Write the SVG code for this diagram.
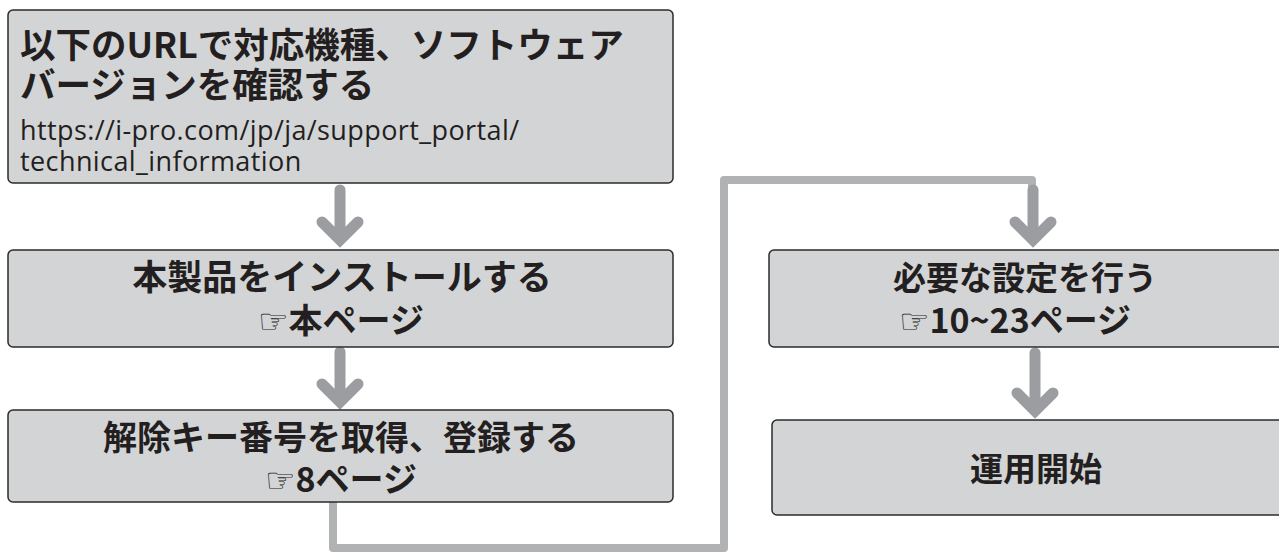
<svg xmlns="http://www.w3.org/2000/svg" width="1279" height="552" viewBox="0 0 1279 552">
<style>
.box{fill:#d3d4d6;stroke:#2b2b2b;stroke-width:1.5}
.t{font-family:"Noto Sans CJK JP","Noto Sans",sans-serif;font-weight:700;font-size:34px;fill:#231f20}
.c{text-anchor:middle}
.u{font-family:"Open Sans","Noto Sans",sans-serif;font-weight:400;font-size:27px;letter-spacing:0.4px;fill:#231f20}
.line{fill:none;stroke:#b1b2b4;stroke-width:8;stroke-linecap:round;stroke-linejoin:round}
.shaft{fill:none;stroke:#9c9da0;stroke-width:11;stroke-linecap:round}
.head{fill:none;stroke:#9c9da0;stroke-width:11;stroke-linecap:round;stroke-linejoin:miter}
.hand{font-family:"DejaVu Sans",sans-serif;font-weight:400;font-size:34px}
</style>
<rect width="1279" height="552" fill="#fff"/>
<g id="connectors">
<path class="line" d="M333 502 V548 H724 V180 H1032 V210"/>
<line class="shaft" x1="340" y1="190" x2="340" y2="236"/>
<path class="head" d="M322 222 L340 240 L358 222"/>
<line class="shaft" x1="340" y1="352" x2="340" y2="398"/>
<path class="head" d="M322 384 L340 402 L358 384"/>
<line class="shaft" x1="1033" y1="190" x2="1033" y2="236"/>
<path class="head" d="M1015 222 L1033 240 L1051 222"/>
<line class="shaft" x1="1035" y1="353" x2="1035" y2="406"/>
<path class="head" d="M1017 393 L1035 411 L1053 393"/>
</g>
<g id="n1">
<rect class="box" x="8" y="10" width="665" height="173" rx="5"/>
<text class="t" x="20" y="58" style="font-size:35.5px">以下のURLで対応機種、ソフトウェア</text>
<text class="t" x="20" y="98" style="font-size:35.5px">バージョンを確認する</text>
<text class="u" x="20" y="140">https://i-pro.com/jp/ja/support_portal/</text>
<text class="u" x="20" y="171">technical_information</text>
</g>
<g id="n2">
<rect class="box" x="8" y="250" width="665" height="97" rx="5"/>
<text class="t c" x="342" y="290" style="font-size:35px">本製品をインストールする</text>
<text class="t c" x="341" y="333"><tspan class="hand">☞</tspan>本ページ</text>
</g>
<g id="n3">
<rect class="box" x="8" y="410" width="665" height="92" rx="5"/>
<text class="t c" x="341" y="450">解除キー番号を取得、登録する</text>
<text class="t c" x="341" y="492"><tspan class="hand">☞</tspan>8ページ</text>
</g>
<g id="n4">
<rect class="box" x="769" y="250" width="520" height="97" rx="5"/>
<text class="t c" x="1025" y="290" style="font-size:33px">必要な設定を行う</text>
<text class="t c" x="1015" y="333"><tspan class="hand">☞</tspan>10~23ページ</text>
</g>
<g id="n5">
<rect class="box" x="772" y="420" width="520" height="95" rx="5"/>
<text class="t c" x="1036" y="481" style="font-size:33px">運用開始</text>
</g>
</svg>
